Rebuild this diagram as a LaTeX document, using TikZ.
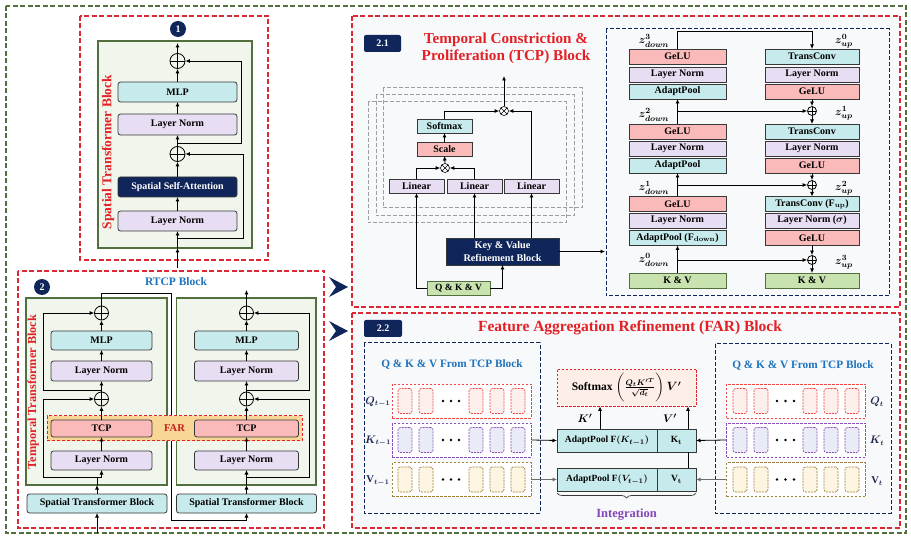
\documentclass[tikz,border=0pt]{standalone}
\usepackage{fontspec}
\setmainfont{Liberation Serif}
\usepackage{amsmath}
\usetikzlibrary{arrows.meta,decorations.pathreplacing,calc}

\definecolor{navy}{RGB}{16,38,90}
\definecolor{redd}{RGB}{226,32,38}
\definecolor{paneline}{RGB}{220,40,50}
\definecolor{grnb}{RGB}{82,112,62}
\definecolor{grnf}{RGB}{241,246,236}
\definecolor{cyanf}{RGB}{199,235,236}
\definecolor{lavf}{RGB}{232,222,244}
\definecolor{pinkf}{RGB}{250,186,186}
\definecolor{kvf}{RGB}{200,226,176}
\definecolor{bluet}{RGB}{30,115,190}
\definecolor{bline}{RGB}{55,55,55}
\definecolor{farf}{RGB}{247,214,150}
\definecolor{farred}{RGB}{200,30,30}
\definecolor{panelf}{RGB}{248,249,250}
\definecolor{purp}{RGB}{130,70,185}
\definecolor{qline}{RGB}{240,70,70}
\definecolor{qfill}{RGB}{253,239,236}
\definecolor{kline}{RGB}{140,80,190}
\definecolor{kfill}{RGB}{233,236,247}
\definecolor{vline}{RGB}{160,130,60}
\definecolor{vfill}{RGB}{253,245,225}
\definecolor{smfill}{RGB}{253,238,232}
\definecolor{lblnavy}{RGB}{30,40,80}

\tikzset{
  fs/.style={font=\bfseries\boldmath\fontsize{#1}{#1}\selectfont},
  wh/.style 2 args={minimum width=#1pt, minimum height=#2pt},
  box/.style={draw=bline, line width=0.8pt, rounded corners=2.5pt, inner sep=0pt, outer sep=0pt, fs=10},
  sq/.style={draw=bline, line width=0.8pt, inner sep=0pt, outer sep=0pt, fs=10},
  arr/.style={-{Latex[length=4.5pt,width=4pt]}, line width=0.8pt},
  ln/.style={line width=0.8pt},
  outerframe/.style={draw=grnb, line width=1.2pt, dash pattern=on 5pt off 2.5pt},
  panel/.style={draw=paneline, line width=1.2pt, dash pattern=on 5pt off 2.5pt},
  grnbox/.style={draw=grnb, fill=grnf, line width=1.1pt},
  badge/.style={circle, fill=navy, text=white, minimum size=16pt, inner sep=0pt, fs=10},
  tag/.style={fill=navy, text=white, rounded corners=2pt, inner sep=0pt, fs=10},
  sidelbl/.style={rotate=90, text=redd, fs=#1},
  opl/.style={circle, draw=black, line width=0.8pt, inner sep=0pt, minimum size=#1pt,
    path picture={\draw[line width=0.8pt] (path picture bounding box.north) -- (path picture bounding box.south)
      (path picture bounding box.west) -- (path picture bounding box.east);}},
  opl/.default=14,
  otm/.style={circle, draw=black, line width=0.6pt, inner sep=0pt, minimum size=9pt, fill=white,
    path picture={\draw[line width=0.6pt] (path picture bounding box.north west) -- (path picture bounding box.south east)
      (path picture bounding box.north east) -- (path picture bounding box.south west);}},
  gframe/.style={draw=gray!75, line width=1pt, dash pattern=on 4pt off 2pt},
  bframe/.style={draw=navy, line width=1pt, dash pattern=on 4pt off 2pt},
  rowbox/.style={draw=#1, line width=0.8pt, dash pattern=on 2.5pt off 1.5pt, fill=white, inner sep=0pt, minimum width=139pt, minimum height=34pt},
  cell/.style 2 args={draw=#1, fill=#2, line width=0.7pt, dash pattern=on 2pt off 1pt, rounded corners=2.5pt, minimum width=14pt, minimum height=25pt, inner sep=0pt},
  zl/.style={font=\boldmath\fontsize{11}{11}\selectfont},
  rowlbl/.style={text=lblnavy, fs=10.5},
  chev/.style={fill=navy}
}

\begin{document}
\begin{tikzpicture}[x=1pt,y=-1pt]
\useasboundingbox (0,0) rectangle (911,537);
\draw[outerframe] (6,6) rectangle (906,533);

% ================= Spatial transformer block =================
\draw[panel, fill=white] (80,16) rectangle (268,260);
\draw[grnbox] (98,41) rectangle (252,248);
\node[badge] (b1) at (178,29) {1};
\node[sidelbl=13.5] (stlbl) at (108,152) {Spatial Transformer Block};

\node[opl=15] (opA2) at (177.5,61) {};
\node[box, fill=cyanf, wh={119}{20}] (mlpA) at (177.5,92) {MLP};
\node[box, fill=lavf, wh={119}{21}] (lnA2) at (177.5,124.5) {Layer Norm};
\node[opl=15] (opA1) at (177.5,154) {};
\node[box, fill=navy, text=white, wh={119}{20}] (ssa) at (177.5,187) {Spatial Self-Attention};
\node[box, fill=lavf, wh={119}{20}] (lnA1) at (177.5,221) {Layer Norm};

\coordinate (inA) at (177.5,268);
\coordinate (gA) at (177.5,248);
\coordinate (spA) at (177.5,238);
\coordinate (rsA) at (177.5,143);
\coordinate (outA) at (177.5,43);
\draw[arr] (inA) -- (gA);
\draw[ln] (gA) -- (spA);
\draw[arr] (spA) -- (lnA1.south);
\draw[arr] (spA) -- (243.5,238) |- (opA1.east);
\draw[arr] (lnA1.north) -- (ssa.south);
\draw[arr] (ssa.north) -- (opA1.south);
\draw[arr] (opA1.north) -- (lnA2.south);
\draw[arr] (rsA) -- (241,143) |- (opA2.east);
\draw[arr] (lnA2.north) -- (mlpA.south);
\draw[arr] (mlpA.north) -- (opA2.south);
\draw[arr] (opA2.north) -- (outA);

% ================= RTCP block =================
\draw[panel, fill=white] (18,271) rectangle (324,528);
\node[badge] (b2) at (42,287) {2};
\node[text=bluet, fs=11.5] (rtcp) at (176,282) {RTCP Block};
\draw[grnbox] (26,298) rectangle (167,485);
\draw[grnbox] (176.5,298) rectangle (316,485);
\node[sidelbl=12.3] (ttlbl) at (33,392) {Temporal Transformer Block};

% left temporal block
\node[opl] (opL2) at (101.5,313) {};
\node[box, fill=cyanf, wh={101}{19}] (mlpL) at (101.5,340.5) {MLP};
\node[box, fill=lavf, wh={101}{20}] (lnL2) at (101.5,371) {Layer Norm};
\node[opl] (opL1) at (101.5,399) {};
\node[box, fill=lavf, wh={101}{19}] (lnL1) at (101.5,460.5) {Layer Norm};
\node[box, fill=cyanf, wh={140}{19}] (stbL) at (97,503.5) {Spatial Transformer Block};

% right temporal block
\node[opl] (opR2) at (246.5,313) {};
\node[box, fill=cyanf, wh={104}{19}] (mlpR) at (246.5,340.5) {MLP};
\node[box, fill=lavf, wh={104}{20}] (lnR2) at (246.5,371) {Layer Norm};
\node[opl] (opR1) at (246.5,399) {};
\node[box, fill=lavf, wh={104}{19}] (lnR1) at (246.5,460.5) {Layer Norm};
\node[box, fill=cyanf, wh={140}{19}] (stbR) at (246.5,503.5) {Spatial Transformer Block};

% left block wiring
\coordinate (inL) at (97,533);
\coordinate (gL) at (97,485);
\coordinate (jL) at (97,477);
\draw[arr] (inL) -- (stbL.south);
\draw[arr] (stbL.north) -- (gL);
\draw[ln] (gL) -- (jL);
\draw[ln] (jL) -- (101.5,477);
\draw[arr] (101.5,477) -- (lnL1.south);
\draw[arr] (jL) -- (43,477) |- (opL1.west);
\draw[arr] (101.5,390) -- (43,390) |- (opL2.west);
\draw[arr] (lnL2.north) -- (mlpL.south);
\draw[arr] (mlpL.north) -- (opL2.south);
\draw[arr] (opL1.north) -- (lnL2.south);

% right block wiring
\coordinate (gR) at (246.5,485);
\coordinate (jR) at (246.5,477);
\coordinate (outR) at (246.5,290);
\draw[arr] (opL2.north) -- (101.5,293) -- (171,293) -- (171,520) -- (246.5,520) -- (stbR.south);
\draw[arr] (stbR.north) -- (gR);
\draw[arr] (gR) -- (lnR1.south);
\draw[arr] (jR) -- (309,477) |- (opR1.east);
\draw[arr] (246.5,390) -- (309,390) |- (opR2.east);
\draw[arr] (opR1.north) -- (lnR2.south);
\draw[arr] (lnR2.north) -- (mlpR.south);
\draw[arr] (mlpR.north) -- (opR2.south);
\draw[arr] (opR2.north) -- (outR);

% FAR band spanning both TCP modules
\node[draw=redd, line width=1pt, dash pattern=on 3pt off 2pt, fill=farf, wh={255}{25}, inner sep=0pt,
      text=farred, fs=10.5] (far) at (174.5,428.5) {FAR};
\node[box, fill=pinkf, wh={101}{17}] (tcpL) at (101.5,428.5) {TCP};
\node[box, fill=pinkf, wh={104}{17}] (tcpR) at (246.5,428.5) {TCP};
\draw[arr] (lnL1.north) -- (tcpL.south);
\draw[arr] (tcpL.north) -- (opL1.south);
\draw[arr] (lnR1.north) -- (tcpR.south);
\draw[arr] (tcpR.north) -- (opR1.south);

% pointers to the detail panels
\fill[chev] (329,277) -- (348,287) -- (329,297) -- (336,287) -- cycle;
\fill[chev] (329,321) -- (348,331) -- (329,341) -- (336,331) -- cycle;

% ================= 2.1 TCP block =================
\draw[panel, fill=panelf] (352,16) rectangle (900,307);
\node[tag, wh={37}{17}] (t21) at (382.5,43.5) {2.1};
\node[text=redd, align=center, font=\bfseries\fontsize{15.2}{17.5}\selectfont] (tcptitle) at (506,48.5)
  {Temporal Constriction \&\\Proliferation (TCP) Block};

\draw[gframe] (383,88) rectangle (582,208);
\draw[gframe] (376,95) rectangle (574,216);
\draw[gframe] (368,102) rectangle (566,223);

\node[sq, fill=lavf, wh={55}{14}] (lin1) at (416.5,186) {Linear};
\node[sq, fill=lavf, wh={55}{14}] (lin2) at (474.5,186) {Linear};
\node[sq, fill=lavf, wh={55}{14}] (lin3) at (531.5,186) {Linear};
\node[otm] (ot1) at (445,168) {};
\node[sq, fill=pinkf, wh={55}{14}] (scl) at (444.5,149) {Scale};
\node[sq, fill=cyanf, wh={55}{14}] (smx) at (444.5,126) {Softmax};
\node[otm] (ot2) at (504,111) {};
\coordinate (tcpout) at (504,76);

\node[sq, fill=navy, text=white, wh={113}{27}, align=center, font=\bfseries\fontsize{10.2}{12.2}\selectfont] (kvr) at (502.5,251.5)
  {Key \& Value\\Refinement Block};
\node[sq, draw=grnb, fill=kvf, wh={63}{14}, fs=9.5] (qkv) at (458.5,288) {Q \& K \& V};

\draw[arr] (qkv.west) -| (lin1.south);
\draw[arr] (qkv.east) -| (kvr.south);
\draw[arr] (kvr.north -| lin2) -- (lin2.south);
\draw[arr] (kvr.north -| lin3) -- (lin3.south);
\draw[arr] (lin1.north) |- (ot1.west);
\draw[arr] (lin2.north) |- (ot1.east);
\draw[arr] (ot1.north) -- (scl.south);
\draw[arr] (scl.north) -- (smx.south);
\draw[arr] (smx.north) |- (ot2.west);
\draw[arr] (lin3.north) |- (ot2.east);
\draw[arr] (ot2.north) -- (tcpout);

% key & value refinement detail
\draw[bframe] (606,29) rectangle (889,296);
\coordinate (kvin) at (605,251.5);
\draw[arr] (kvr.east) -- (kvin);

% down path
\node[sq, fill=pinkf, wh={97}{15}] (gL1) at (677.5,56.5) {GeLU};
\node[sq, fill=lavf, wh={97}{15}] (nL1) at (677.5,74.5) {Layer Norm};
\node[sq, fill=cyanf, wh={97}{15}] (aL1) at (677.5,91.5) {AdaptPool};
\node[sq, fill=pinkf, wh={97}{15}] (gL2) at (677.5,131.5) {GeLU};
\node[sq, fill=lavf, wh={97}{15}] (nL2) at (677.5,148.5) {Layer Norm};
\node[sq, fill=cyanf, wh={97}{15}] (aL2) at (677.5,165.5) {AdaptPool};
\node[sq, fill=pinkf, wh={97}{15}] (gL3) at (677.5,204) {GeLU};
\node[sq, fill=lavf, wh={97}{15}] (nL3) at (677.5,220.5) {Layer Norm};
\node[sq, fill=cyanf, wh={97}{15}] (aL3) at (677.5,238) {AdaptPool (F$_{\mathbf{down}}$)};
\node[sq, draw=grnb, fill=kvf, wh={97}{15}] (kvL) at (677.5,280.5) {K \& V};

% up path
\node[sq, fill=cyanf, wh={94}{15}] (tR1) at (812,56.5) {TransConv};
\node[sq, fill=lavf, wh={94}{15}] (nR1) at (812,74.5) {Layer Norm};
\node[sq, fill=pinkf, wh={94}{15}] (gR1) at (812,91.5) {GeLU};
\node[opl=9] (op1) at (812,111) {};
\node[sq, fill=cyanf, wh={94}{15}] (tR2) at (812,131.5) {TransConv};
\node[sq, fill=lavf, wh={94}{15}] (nR2) at (812,148.5) {Layer Norm};
\node[sq, fill=pinkf, wh={94}{15}] (gR2) at (812,165.5) {GeLU};
\node[opl=9] (op2) at (812,185) {};
\node[sq, fill=cyanf, wh={94}{15}] (tR3) at (812,204) {TransConv (F$_{\mathbf{up}}$)};
\node[sq, fill=lavf, wh={94}{15}] (nR3) at (812,220.5) {Layer Norm ($\sigma$)};
\node[sq, fill=pinkf, wh={94}{15}] (gR3) at (812,238) {GeLU};
\node[opl=9] (op3) at (812,260) {};
\node[sq, draw=grnb, fill=kvf, wh={94}{15}] (kvR) at (812,280.5) {K \& V};

\draw[arr] (kvL.north) -- (aL3.south);
\draw[arr] (kvL.north |- op3) -- (op3.west);
\draw[arr] (gL3.north) -- (aL2.south);
\draw[arr] (gL3.north |- op2) -- (op2.west);
\draw[arr] (gL2.north) -- (aL1.south);
\draw[arr] (gL2.north |- op1) -- (op1.west);
\draw[arr] (gL1.north) -- ++(0,-18) -| (tR1.north);
\draw[arr] (gR1.south) -- (op1.north);
\draw[arr] (op1.south) -- (tR2.north);
\draw[arr] (gR2.south) -- (op2.north);
\draw[arr] (op2.south) -- (tR3.north);
\draw[arr] (gR3.south) -- (op3.north);
\draw[arr] (op3.south) -- (kvR.north);

\node[zl] (zd3) at (654,41) {$z^{3}_{down}$};
\node[zl] (zu0) at (844,41) {$z^{0}_{up}$};
\node[zl] (zd2) at (654,115) {$z^{2}_{down}$};
\node[zl] (zu1) at (844,113) {$z^{1}_{up}$};
\node[zl] (zd1) at (654,188) {$z^{1}_{down}$};
\node[zl] (zu2) at (844,188) {$z^{2}_{up}$};
\node[zl] (zd0) at (654,260) {$z^{0}_{down}$};
\node[zl] (zu3) at (844,262) {$z^{3}_{up}$};

% ================= 2.2 FAR block =================
\draw[panel, fill=panelf] (352,313) rectangle (900,528);
\node[tag, wh={38}{17}] (t22) at (383,328.5) {2.2};
\node[text=redd, fs=15.5] (fartitle) at (630,328) {Feature Aggregation Refinement (FAR) Block};

% previous frame tokens
\draw[bframe] (364,343) rectangle (540,513);
\node[text=bluet, fs=11.3] (srcL) at (452,364) {Q \& K \& V From TCP Block};
\node[rowbox=qline] (rowQL) at (461.5,401) {};
\node[rowbox=kline] (rowKL) at (461.5,440) {};
\node[rowbox=vline] (rowVL) at (461.5,479.5) {};
\foreach \cx in {405,426,476,497,518} {
  \node[cell={qline}{qfill}] at (\cx,401) {};
  \node[cell={kline}{kfill}] at (\cx,440) {};
  \node[cell={vline}{vfill}] at (\cx,479.5) {};
}
\foreach \dx in {443,451,459} {
  \fill (\dx,401) circle (1.4pt);
  \fill (\dx,440) circle (1.4pt);
  \fill (\dx,479.5) circle (1.4pt);
}
\node[rowlbl] (qtm) at (378,402) {$Q_{t-1}$};
\node[rowlbl] (ktm) at (378,441) {$K_{t-1}$};
\node[rowlbl] (vtm) at (378,481) {V$_{t-1}$};

% current frame tokens
\draw[bframe] (715,344) rectangle (891,513);
\node[text=bluet, fs=11.3] (srcR) at (803,365) {Q \& K \& V From TCP Block};
\node[rowbox=qline] (rowQR) at (796,401) {};
\node[rowbox=kline] (rowKR) at (796,440) {};
\node[rowbox=vline] (rowVR) at (796,479.5) {};
\foreach \cx in {740,761,810,831,852} {
  \node[cell={qline}{qfill}] at (\cx,401) {};
  \node[cell={kline}{kfill}] at (\cx,440) {};
  \node[cell={vline}{vfill}] at (\cx,479.5) {};
}
\foreach \dx in {777,785.5,794} {
  \fill (\dx,401) circle (1.4pt);
  \fill (\dx,440) circle (1.4pt);
  \fill (\dx,479.5) circle (1.4pt);
}
\node[rowlbl] (qt) at (877,402) {$Q_{t}$};
\node[rowlbl] (kt0) at (877,441) {$K_{t}$};
\node[rowlbl] (vt0) at (877,481) {V$_{t}$};

% aggregation
\node[draw=redd, line width=0.8pt, dash pattern=on 2.5pt off 1.5pt, fill=smfill, wh={139}{37}, inner sep=0pt,
      font=\bfseries\boldmath\fontsize{11.5}{11.5}\selectfont] (sm) at (626.5,387.5)
  {Softmax $\left(\frac{Q_t K'^{T}}{\sqrt{d_t}}\vphantom{\dfrac{Q}{Q}}\right)V'$};
\node[sq, fill=cyanf, wh={100}{23}, fs=9.5] (apK) at (607,440.5) {AdaptPool F$(K_{t-1})$};
\node[sq, fill=cyanf, wh={39}{23}, fs=9.5] (kt) at (676.5,440.5) {K$_{\mathbf{t}}$};
\node[sq, fill=cyanf, wh={100}{23}, fs=9.5] (apV) at (607,479.5) {AdaptPool F$(V_{t-1})$};
\node[sq, fill=cyanf, wh={39}{23}, fs=9.5] (vt) at (676.5,479.5) {V$_{\mathbf{t}}$};

\coordinate (kp) at ([xshift=-7pt]apK.north);
\coordinate (vp1) at ([xshift=11.5pt]vt.north);
\coordinate (vp2) at ([xshift=11.5pt]kt.south);
\coordinate (vp3) at ([xshift=11.5pt]kt.north);
\draw[arr] (kp) -- (kp |- sm.south);
\draw[ln] (vp1) -- (vp2);
\draw[arr] (vp3) -- (vp3 |- sm.south);
\node[zl] (kpl) at (585,418) {$K'$};
\node[zl] (vpl) at (670,418) {$V'$};

\draw[arr] (rowKL.east) -- (apK.west);
\draw[arr, draw=gray!85!black] (rowVL.east) -- (apV.west);
\draw[arr] (rowKR.west) -- (kt.east);
\draw[arr, draw=gray!85!black] (rowVR.west) -- (vt.east);

\draw[decorate, decoration={brace, mirror, amplitude=5pt}, line width=0.7pt, draw=bline] (557,493) -- (696,493);
\node[text=purp, fs=12.5] (integ) at (626.5,515) {Integration};

\end{tikzpicture}
\end{document}
